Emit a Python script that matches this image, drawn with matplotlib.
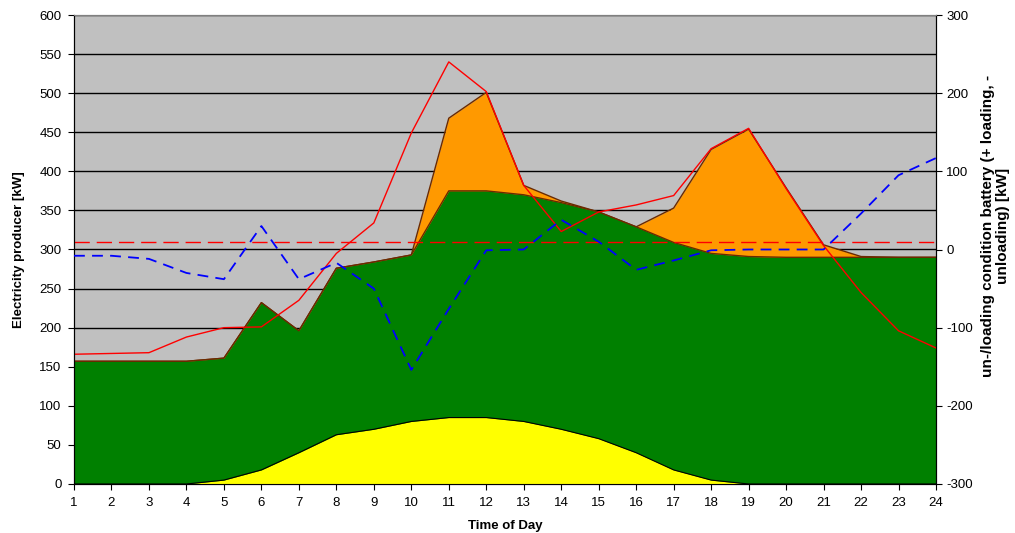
import numpy as np
import matplotlib.pyplot as plt

plt.rcParams['font.family'] = ['Liberation Sans', 'DejaVu Sans']
plt.rcParams['axes.unicode_minus'] = False

hours = np.arange(1, 25)

# PV (yellow)
solar = [0, 0, 0, 0, 5, 18, 40, 63, 70, 80, 85, 85, 80, 70, 58, 40, 18, 5, 0, 0, 0, 0, 0, 0]
# base production (green)
base = [157, 157, 157, 157, 161, 232, 196, 276, 284, 293, 375, 375, 370, 360, 348, 329, 309, 295, 291, 290, 290, 290, 290, 290]
# total incl. battery (orange)
total = [157, 157, 157, 157, 161, 232, 196, 276, 284, 293, 468, 501, 382, 362, 348, 329, 353, 428, 454, 379, 306, 291, 290, 290]
# demand (thin red)
demand = [166, 167, 168, 188, 200, 201, 235, 295, 334, 449, 540, 502, 382, 323, 348, 357, 369, 429, 455, 378, 305, 245, 196, 174]
# battery un-/loading, right axis (blue dashed)
battery = [-8, -8, -12, -30, -38, 30, -38, -17, -50, -154, -76, -1, 0, 38, 10, -26, -14, -1, 0, 0, 0, 46, 95, 117]
limit = 309

fig = plt.figure(figsize=(10.15, 5.33), dpi=100)
ax = fig.add_axes([74 / 1015, 49 / 533, 862 / 1015, 469 / 533])
ax.set_facecolor('#C0C0C0')
ax.set_axisbelow(True)
ax.yaxis.grid(True, color='black', lw=1)

edge = '#6B2A00'
ax.fill_between(hours, 0, total, color='#FF9900', lw=0, zorder=1)
ax.plot(hours, total, color=edge, lw=1, zorder=2)
ax.fill_between(hours, 0, base, color='#008000', lw=0, zorder=2)
ax.plot(hours, base, color=edge, lw=1, zorder=2)
ax.fill_between(hours, 0, solar, color='#FFFF00', lw=0, zorder=3)
ax.plot(hours, solar, color='black', lw=0.8, zorder=3)
ax.plot(hours, demand, color='#FF0000', lw=1, zorder=4)
ax.axhline(limit, color='#FF0000', lw=1, dashes=(11, 5), zorder=4)

ax.set_xlim(1, 24)
ax.set_ylim(0, 600)
ax.set_xticks(hours)
ax.set_yticks(np.arange(0, 601, 50))
ax.tick_params(direction='out', length=4, labelsize=9.5, colors='black', pad=5)
ax.set_xlabel('Time of Day', fontsize=9.5, fontweight='bold', labelpad=8)
ax.set_ylabel('Electricity producer [kW]', fontsize=9.5, fontweight='bold', labelpad=10)
ax.spines['top'].set_color('#808080')

ax2 = ax.twinx()
ax2.plot(hours, battery, color='#0000FF', lw=1.3, dashes=(6, 4), zorder=5)
ax2.set_ylim(-300, 300)
ax2.set_yticks(np.arange(-300, 301, 100))
ax2.tick_params(direction='out', length=4, labelsize=9.5)
ax2.set_ylabel('un-/loading condition battery (+ loading, -\nunloading) [kW]',
               fontsize=11, fontweight='bold', labelpad=6, linespacing=1.1)
ax2.yaxis.set_label_coords(1.052, 0.55)
ax2.spines['top'].set_color('#808080')

fig.savefig('out.png', dpi=100)
